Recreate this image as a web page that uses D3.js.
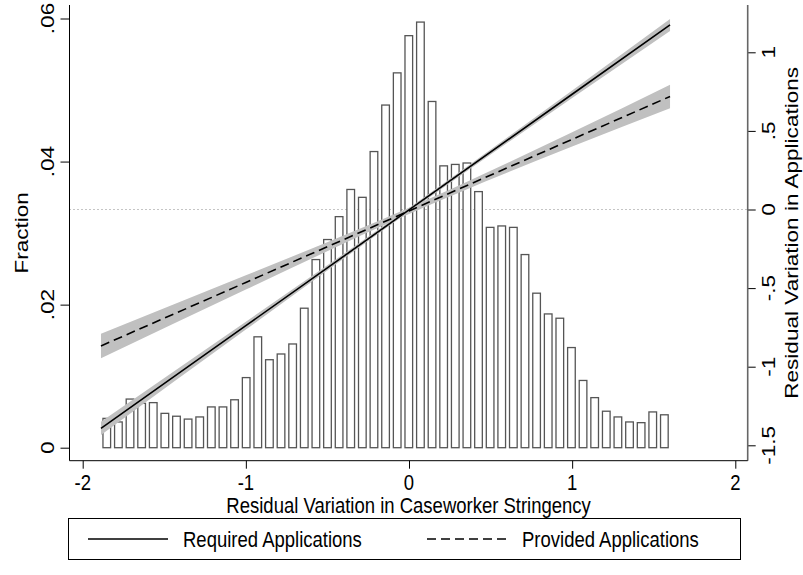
<!DOCTYPE html>
<html>
<head>
<meta charset="utf-8">
<script src="https://cdn.jsdelivr.net/npm/d3@7"></script>
<style>
  body { margin: 0; background: #fff; }
  svg text { font-family: "Liberation Sans", Arial, sans-serif; fill: #000; }
</style>
</head>
<body>
<div id="chart"></div>
<script>
// histogram of caseworker stringency (fraction per bin)
const binStart = -1.888;
const binWidth = 0.0712;
const fractions = [
  0.0041, 0.0036, 0.0068, 0.0062, 0.0063, 0.0048, 0.0044, 0.0040, 0.0043, 0.0057,
  0.0057, 0.0067, 0.0098, 0.0155, 0.0123, 0.0131, 0.0145, 0.0195, 0.0263, 0.0291,
  0.0323, 0.0361, 0.0350, 0.0414, 0.0479, 0.0524, 0.0576, 0.0595, 0.0484, 0.0394,
  0.0396, 0.0398, 0.0358, 0.0308, 0.0310, 0.0308, 0.0270, 0.0216, 0.0187, 0.0181,
  0.0140, 0.0094, 0.0070, 0.0051, 0.0043, 0.0036, 0.0035, 0.0050, 0.0046
];

// linear fits with confidence bands (right axis)
const fitX = [-1.888, -1, 0, 1, 1.6];
const requiredFit = [-1.392, -0.739, -0.003, 0.733, 1.174];
const requiredLo  = [-1.434, -0.764, -0.015, 0.709, 1.136];
const requiredHi  = [-1.350, -0.714, 0.009, 0.757, 1.212];
const providedFit = [-0.868, -0.464, -0.009, 0.446, 0.719];
const providedLo  = [-0.946, -0.509, -0.029, 0.401, 0.644];
const providedHi  = [-0.790, -0.419, 0.011, 0.491, 0.794];

const xTicks = [-2, -1, 0, 1, 2];
const yLeftTicks = [0, 0.02, 0.04, 0.06];
const yRightTicks = [-1.5, -1, -0.5, 0, 0.5, 1];
// Stata style: plain hyphen, no leading zero
const fmtTick = d => String(d).replace(/^(-?)0\./, '$1.');

const width = 803, height = 575;
const plot = { left: 69.5, right: 747.7, top: 5, bottom: 460.7 };
const fontSize = 18.5;
const stretch = 1.22;   // glyphs in the reference are taller than wide

const svg = d3.select('#chart').append('svg')
    .attr('width', width)
    .attr('height', height);

const x = d3.scaleLinear().domain([-2, 2]).range([82.7, 735.3]);
const yL = d3.scaleLinear().domain([0, 0.06]).range([447.7, 18.5]);
const yR = d3.scaleLinear().domain([-1.5, 1]).range([445.3, 52.3]);

// horizontal / rotated text helpers
function hText(g, tx, ty, str, anchor) {
    return g.append('text')
        .attr('transform', `translate(${tx},${ty}) scale(1,${stretch})`)
        .style('text-anchor', anchor || 'middle')
        .style('font-size', fontSize + 'px')
        .text(str);
}
function vText(g, tx, ty, str) {
    return g.append('text')
        .attr('transform', `translate(${tx},${ty}) rotate(-90) scale(${stretch},1)`)
        .style('text-anchor', 'middle')
        .style('font-size', fontSize + 'px')
        .text(str);
}

// reference line at zero
svg.append('line')
    .attr('x1', plot.left).attr('x2', plot.right)
    .attr('y1', yR(0)).attr('y2', yR(0))
    .attr('stroke', '#8a8a8a')
    .attr('stroke-width', 1)
    .attr('stroke-dasharray', '1,3');

// bars
const binPx = x(binWidth) - x(0);
const barW = binPx * 0.77;
svg.selectAll('.bar')
    .data(fractions)
    .enter()
    .append('rect')
    .attr('class', 'bar')
    .attr('x', (d, i) => x(binStart + (i + 0.5) * binWidth) - barW / 2 + 0.65)
    .attr('width', barW - 1.3)
    .attr('y', d => yL(d))
    .attr('height', d => yL(0) - yL(d))
    .attr('fill', '#fff')
    .attr('stroke', '#555')
    .attr('stroke-width', 1.3);

// confidence bands
const band = (lo, hi) => d3.area()
    .x((d, i) => x(fitX[i]))
    .y0((d, i) => yR(lo[i]))
    .y1((d, i) => yR(hi[i]))
    .curve(d3.curveMonotoneX)(fitX);

svg.append('path').attr('d', band(providedLo, providedHi)).attr('fill', '#c0c0c0');
svg.append('path').attr('d', band(requiredLo, requiredHi)).attr('fill', '#c0c0c0');

const fitLine = vals => d3.line()
    .x((d, i) => x(fitX[i]))
    .y((d, i) => yR(vals[i]))(fitX);

svg.append('path')
    .attr('d', fitLine(providedFit))
    .attr('fill', 'none')
    .attr('stroke', '#000')
    .attr('stroke-width', 1.6)
    .attr('stroke-dasharray', '9,5');

svg.append('path')
    .attr('d', fitLine(requiredFit))
    .attr('fill', 'none')
    .attr('stroke', '#000')
    .attr('stroke-width', 1.6);

// axes (ticks from d3, labels redrawn stretched)
const xAxis = svg.append('g')
    .attr('transform', `translate(0,${plot.bottom})`)
    .call(d3.axisBottom(x).tickValues(xTicks).tickFormat('').tickSize(8).tickSizeOuter(0));
xAxis.select('.domain').remove();
xTicks.forEach(t => hText(svg, x(t), 489.5, fmtTick(t)));

const yAxisL = svg.append('g')
    .attr('transform', `translate(${plot.left},0)`)
    .call(d3.axisLeft(yL).tickValues(yLeftTicks).tickFormat('').tickSize(9).tickSizeOuter(0));
yAxisL.select('.domain').remove();
yLeftTicks.forEach(t => vText(svg, 53.5, yL(t), fmtTick(t)));

const yAxisR = svg.append('g')
    .attr('transform', `translate(${plot.right},0)`)
    .call(d3.axisRight(yR).tickValues(yRightTicks).tickFormat('').tickSize(8).tickSizeOuter(0));
yAxisR.select('.domain').remove();
yRightTicks.forEach(t => vText(svg, 775, yR(t), fmtTick(t)));

// axis lines
svg.append('line')
    .attr('x1', plot.left).attr('x2', plot.left)
    .attr('y1', plot.top).attr('y2', plot.bottom)
    .attr('stroke', '#000').attr('stroke-width', 1);
svg.append('line')
    .attr('x1', plot.right).attr('x2', plot.right)
    .attr('y1', plot.top).attr('y2', plot.bottom)
    .attr('stroke', '#666').attr('stroke-width', 1.6);
svg.append('line')
    .attr('x1', plot.left).attr('x2', plot.right)
    .attr('y1', plot.bottom).attr('y2', plot.bottom)
    .attr('stroke', '#000').attr('stroke-width', 1);

// axis titles
hText(svg, (plot.left + plot.right) / 2, 513, 'Residual Variation in Caseworker Stringency');
vText(svg, 28, (plot.top + plot.bottom) / 2, 'Fraction');
vText(svg, 798, (plot.top + plot.bottom) / 2, 'Residual Variation in Applications');

// legend
const legend = svg.append('g');
legend.append('rect')
    .attr('x', 68.5).attr('y', 518.5)
    .attr('width', 672).attr('height', 41)
    .attr('fill', '#fff').attr('stroke', '#000').attr('stroke-width', 1);

const legendItems = [
  { label: 'Required Applications', x0: 88, dash: null },
  { label: 'Provided Applications', x0: 427, dash: '9,5' }
];
legendItems.forEach(item => {
    legend.append('line')
        .attr('x1', item.x0).attr('x2', item.x0 + 80)
        .attr('y1', 539).attr('y2', 539)
        .attr('stroke', '#000').attr('stroke-width', 1.6)
        .attr('stroke-dasharray', item.dash);
    hText(legend, item.x0 + 95, 547, item.label, 'start');
});
</script>
</body>
</html>
